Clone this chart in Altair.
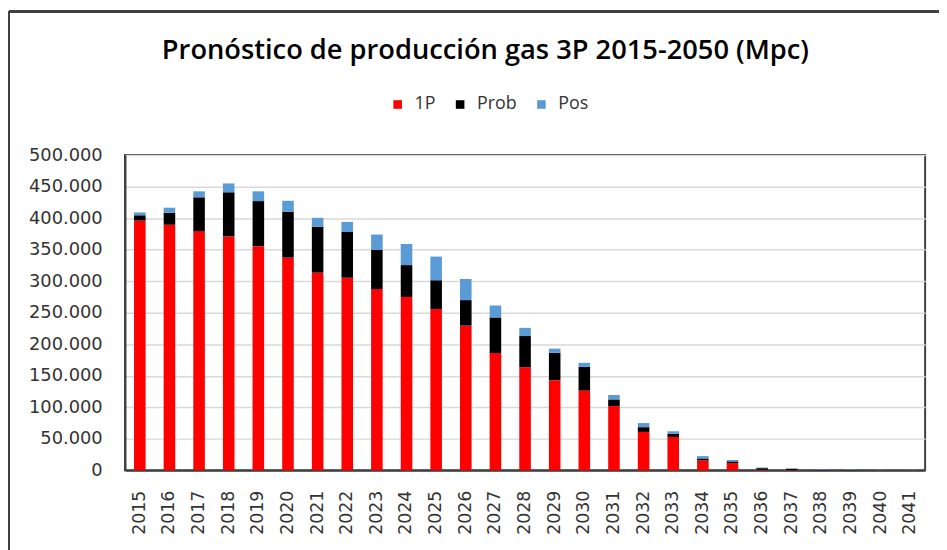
import altair as alt
import pandas as pd

years = [str(y) for y in range(2015, 2042)]
onep = [396000, 389500, 379500, 371000, 355500, 337500, 313500, 305500, 287500,
        275000, 256000, 229500, 186000, 163500, 143000, 126500, 102000, 61000,
        53000, 15700, 11600, 1000, 500, 200, 200, 100, 100]
prob = [8500, 19000, 53500, 70000, 71500, 72500, 72500, 72500, 62000,
        50500, 45500, 40500, 56500, 49500, 43500, 37500, 10500, 7500,
        5000, 3200, 2600, 2500, 2000, 500, 400, 200, 200]
pos = [4500, 8000, 9500, 14000, 15500, 17500, 14500, 16000, 24500,
       33500, 37500, 33500, 19000, 13000, 6500, 6500, 7000, 6500,
       4000, 3700, 2200, 1000, 600, 800, 800, 700, 700]
series = ["1P", "Prob", "Pos"]
colors = ["#ff0000", "#000000", "#5b9bd5"]

rows = []
for i, y in enumerate(years):
    for k, (name, vals) in enumerate(zip(series, [onep, prob, pos])):
        rows.append({"year": y, "serie": name, "valor": vals[i], "orden": k})
df = pd.DataFrame(rows)

bars = alt.Chart(df).mark_bar().encode(
    x=alt.X("year:O", title=None,
            scale=alt.Scale(paddingInner=0.61, paddingOuter=0.305),
            axis=alt.Axis(labelAngle=-90, ticks=False, labelPadding=20,
                          labelFontSize=17.5, labelFont="DejaVu Sans",
                          labelColor="#333333", domainColor="#404040",
                          domainWidth=2, grid=False)),
    y=alt.Y("valor:Q", title=None, stack="zero",
            scale=alt.Scale(domain=[0, 500000], nice=False),
            axis=alt.Axis(values=list(range(0, 500001, 50000)), ticks=False,
                          labelPadding=23, labelFontSize=18,
                          labelFont="DejaVu Sans", labelColor="#333333",
                          domainColor="#404040", domainWidth=2,
                          gridColor="#d9d9d9", gridWidth=1.5,
                          labelExpr="datum.value == 0 ? '0' : format(datum.value/1000, 'd') + '.000'")),
    color=alt.Color("serie:N", scale=alt.Scale(domain=series, range=colors),
                    sort=series,
                    legend=alt.Legend(title=None, orient="none", direction="horizontal",
                                      legendX=266, legendY=-60, symbolType="square",
                                      symbolSize=75, symbolStrokeWidth=0,
                                      labelFont="Open Sans", labelFontSize=18,
                                      labelColor="#333333", columnPadding=15,
                                      labelOffset=8, padding=0)),
    order=alt.Order("orden:Q"),
)

frame_left = alt.Chart(df).mark_rule(color="#404040", strokeWidth=2).encode(
    x=alt.value(-117), y=alt.value(-145), y2=alt.value(420))
frame_top = alt.Chart(df).mark_rule(color="#404040", strokeWidth=2).encode(
    x=alt.value(-117), x2=alt.value(830), y=alt.value(-145))

chart = alt.layer(bars, frame_left, frame_top).properties(
    width=807, height=318,
    autosize=alt.AutoSizeParams(type="none"),
    padding={"left": 118, "top": 146, "right": 14, "bottom": 78},
    title=alt.TitleParams("Pronóstico de producción gas 3P 2015-2050 (Mpc)",
                          font="Open Sans", fontSize=27.5, fontWeight=600,
                          color="#000000", anchor="middle", offset=0, dy=55, dx=-40),
).configure_view(stroke="#404040", strokeWidth=2)

chart.save("out.html", embed_options={"renderer": "svg", "actions": False})
